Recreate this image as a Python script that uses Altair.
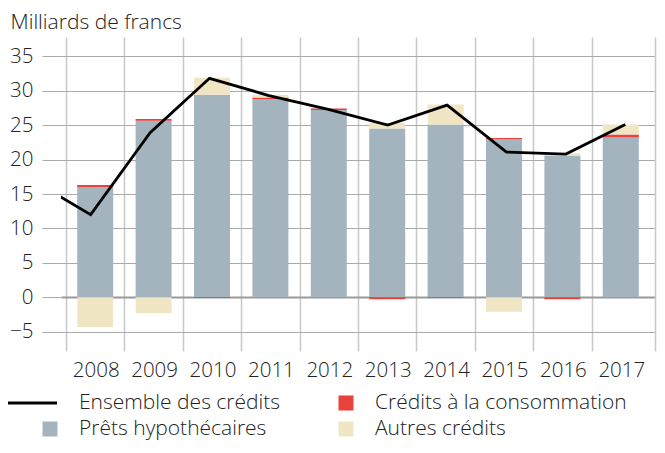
import altair as alt
import pandas as pd

# ---- data (milliards de francs) ----
years = [2008, 2009, 2010, 2011, 2012, 2013, 2014, 2015, 2016, 2017]
prets = [16.0, 25.65, 29.4, 28.8, 27.2, 24.5, 25.1, 23.0, 20.6, 23.2]
conso = [0.3, 0.25, -0.1, 0.23, 0.2, -0.3, -0.1, 0.15, -0.3, 0.45]
autres = [-4.3, -2.3, 2.5, 0.4, 0.0, 0.8, 2.9, -2.1, 0.3, 1.45]

line_years = [2007, 2008, 2009, 2010, 2011, 2012, 2013, 2014, 2015, 2016, 2017]
total = [17.1, 12.0, 23.9, 31.8, 29.3, 27.3, 25.0, 27.9, 21.1, 20.8, 25.1]

series = ["Prêts hypothécaires", "Crédits à la consommation", "Autres crédits"]
series_colors = ["#a3b4be", "#e8423a", "#f0e6c3"]
line_name = "Ensemble des crédits"

leg_labels = ["Ensemble des crédits", "Crédits à la consommation", "Prêts hypothécaires", "Autres crédits"]
leg_col = [0, 1, 0, 1]
leg_row = [0, 0, 1, 1]

y_ticks = [-5, 0, 5, 10, 15, 20, 25, 30, 35]
x_bounds = [2007.5 + i for i in range(10)]

FONT = "Open Sans"
WEIGHT = 300
TXT = "#222222"
VGRID = "#c8c8c8"
HGRID = "#aaaaaa"

W, H = 594, 314

rows = []
for i, yr in enumerate(years):
    for k, vals in enumerate([prets, conso, autres]):
        rows.append({"year": yr, "serie": series[k], "value": vals[i], "ordre": k})
bars_df = pd.DataFrame(rows)
line_df = pd.DataFrame({"year": line_years, "total": total})
leg_df = pd.DataFrame({"label": leg_labels, "col": leg_col, "row": leg_row})

xscale = alt.Scale(domain=[2007.5, 2017.5], nice=False, zero=False)
yscale = alt.Scale(domain=[-7.8, 37.8], nice=False, zero=False)
cscale = alt.Scale(domain=series, range=series_colors)

xaxis = alt.Axis(
    values=x_bounds, grid=True, gridColor=VGRID, gridWidth=1.5,
    ticks=False, domain=False,
    labelExpr="'' + (datum.value + 0.5)",
    labelOffset=29.7, labelPadding=9, labelOverlap=False, labelBound=False,
    labelFlush=False, labelFontSize=20.5, labelColor=TXT, labelFont=FONT,
    labelFontWeight=WEIGHT, title=None,
)

yaxis = alt.Axis(
    values=y_ticks, grid=True,
    gridColor=alt.condition("datum.value === 0", alt.value("#999999"), alt.value(HGRID)),
    gridWidth=alt.condition("datum.value === 0", alt.value(2), alt.value(1)),
    tickColor=HGRID, tickSize=19, tickWidth=1, domain=False,
    labelPadding=9, labelFontSize=20.5, labelColor=TXT, labelFont=FONT, labelFontWeight=WEIGHT,
    title="Milliards de francs", titleAngle=0, titleAlign="left", titleBaseline="alphabetic",
    titleX=-51, titleY=-9, titleFontSize=21, titleFontWeight=WEIGHT, titleColor=TXT, titleFont=FONT,
)

bars = alt.Chart(bars_df).mark_bar(size=36).encode(
    x=alt.X("year:Q", scale=xscale, axis=xaxis),
    y=alt.Y("value:Q", stack="zero", scale=yscale, axis=yaxis),
    color=alt.Color("serie:N", scale=cscale, legend=None),
    order=alt.Order("ordre:Q"),
)

right_axis = alt.Axis(values=y_ticks, orient="right", labels=False, domain=True,
                      domainColor=VGRID, domainWidth=1.5, grid=False,
                      ticks=False, title=None)
line = alt.Chart(line_df).mark_line(color="black", strokeWidth=2.8, clip=True).encode(
    x=alt.X("year:Q", scale=xscale, axis=None),
    y=alt.Y("total:Q", scale=yscale, axis=right_axis),
)

# ---- legend, placed below the plot through its own scales ----
lx = alt.X("col:Q", scale=alt.Scale(domain=[0, 1], range=[18, 314]), axis=None)
ly = alt.Y("row:Q", scale=alt.Scale(domain=[0, 1], range=[366, 392]), axis=None)
lbase = alt.Chart(leg_df)
ltext = lbase.mark_text(align="left", baseline="middle", fontSize=21, font=FONT,
                        fontWeight=WEIGHT, color=TXT).encode(x=lx, y=ly, text="label:N")
lsq = lbase.transform_filter(alt.datum.label != line_name).mark_square(
    size=225, opacity=1, xOffset=-29).encode(
    x=lx, y=ly, color=alt.Color("label:N", scale=cscale, legend=None))
lline = lbase.transform_filter(alt.datum.label == line_name).mark_rule(
    color="black", strokeWidth=2.8, xOffset=-71, x2Offset=-22).encode(
    x=lx, x2=alt.X2("col:Q"), y=ly)

chart = alt.layer(bars, line, lline, lsq, ltext).resolve_scale(
    x="independent", y="independent"
).resolve_axis(x="independent", y="independent").properties(
    width=W, height=H,
    autosize=alt.AutoSizeParams(type="none"),
    padding={"left": 53, "top": 29, "right": 2, "bottom": 89},
).configure(font=FONT).configure_view(stroke=None)

chart.save("out.html", embed_options={"renderer": "svg", "actions": False})
